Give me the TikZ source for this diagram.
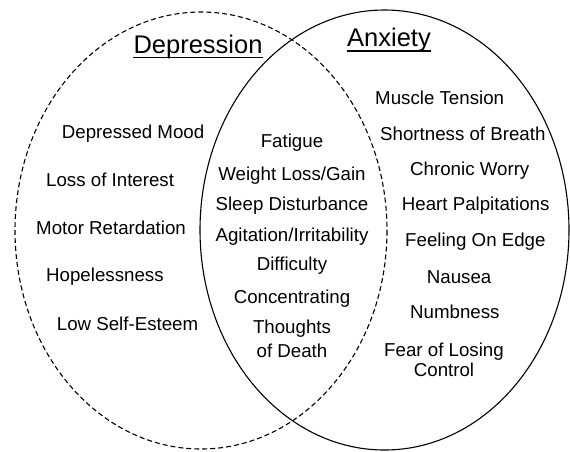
\documentclass[tikz,border=0pt]{standalone}
\usepackage{fontspec}
\setmainfont{Liberation Sans}
\begin{document}
\begin{tikzpicture}[x=1pt,y=-1pt,
		symptom/.style={anchor=base west, inner sep=0pt, font=\fontsize{18.7}{22}\selectfont},
		shared/.style={anchor=base, inner sep=0pt, align=center, font=\fontsize{18.7}{22}\selectfont},
		heading/.style={anchor=base, inner sep=0pt, font=\fontsize{25.5}{30}\selectfont}]
		\useasboundingbox (0,0) rectangle (570,451);
		
		% the two sets
		\draw[line width=1.1pt, dash pattern=on 5pt off 3pt] (201,230.5) ellipse [x radius=186, y radius=218.5];
		\draw[line width=1.1pt] (384.5,230) ellipse [x radius=184.5, y radius=220];
		
		% headings
		\node[heading] (dep) at (198,53.3) {Depression};
		\node[heading] (anx) at (389,46.7) {Anxiety};
		\draw[line width=1.5pt] ([yshift=-4pt]dep.base west) -- ([yshift=-4pt]dep.base east);
		\draw[line width=1.5pt] ([yshift=-4.5pt]anx.base west) -- ([yshift=-4.5pt]anx.base east);
		
		% depression only
		\node[symptom] (mood)     at (61.7,138.3) {Depressed Mood};
		\node[symptom] (interest) at (46,186)     {Loss of Interest};
		\node[symptom] (motor)    at (36,234)     {Motor Retardation};
		\node[symptom] (hope)     at (46,281.7)   {Hopelessness};
		\node[symptom] (esteem)   at (56.7,330)   {Low Self-Esteem};
		
		% both (base of a two-line node is its last line)
		\node[shared] (fatigue)  at (292,147.3) {Fatigue};
		\node[shared] (weight)   at (292,180)   {Weight Loss/Gain};
		\node[shared] (sleep)    at (292,210)   {Sleep Disturbance};
		\node[shared] (agit)     at (292,241.7) {Agitation/Irritability};
		\node[shared] (diff)     at (292,270)   {Difficulty};
		\node[shared] (conc)     at (292,303.3) {Concentrating};
		\node[shared] (death)    at (292,357.3) {Thoughts\\[2pt]of Death};
		
		% anxiety only
		\node[symptom] (muscle)  at (375,104)   {Muscle Tension};
		\node[symptom] (breath)  at (380,140)   {Shortness of Breath};
		\node[symptom] (worry)   at (410,175)   {Chronic Worry};
		\node[symptom] (heart)   at (401.7,210) {Heart Palpitations};
		\node[symptom] (edge)    at (405,246.7) {Feeling On Edge};
		\node[symptom] (nausea)  at (426.7,283.3) {Nausea};
		\node[symptom] (numb)    at (410,318.3) {Numbness};
		\node[shared]  (control) at (444,376.7) {Fear of Losing\\[-2pt]Control};
	\end{tikzpicture}
\end{document}
